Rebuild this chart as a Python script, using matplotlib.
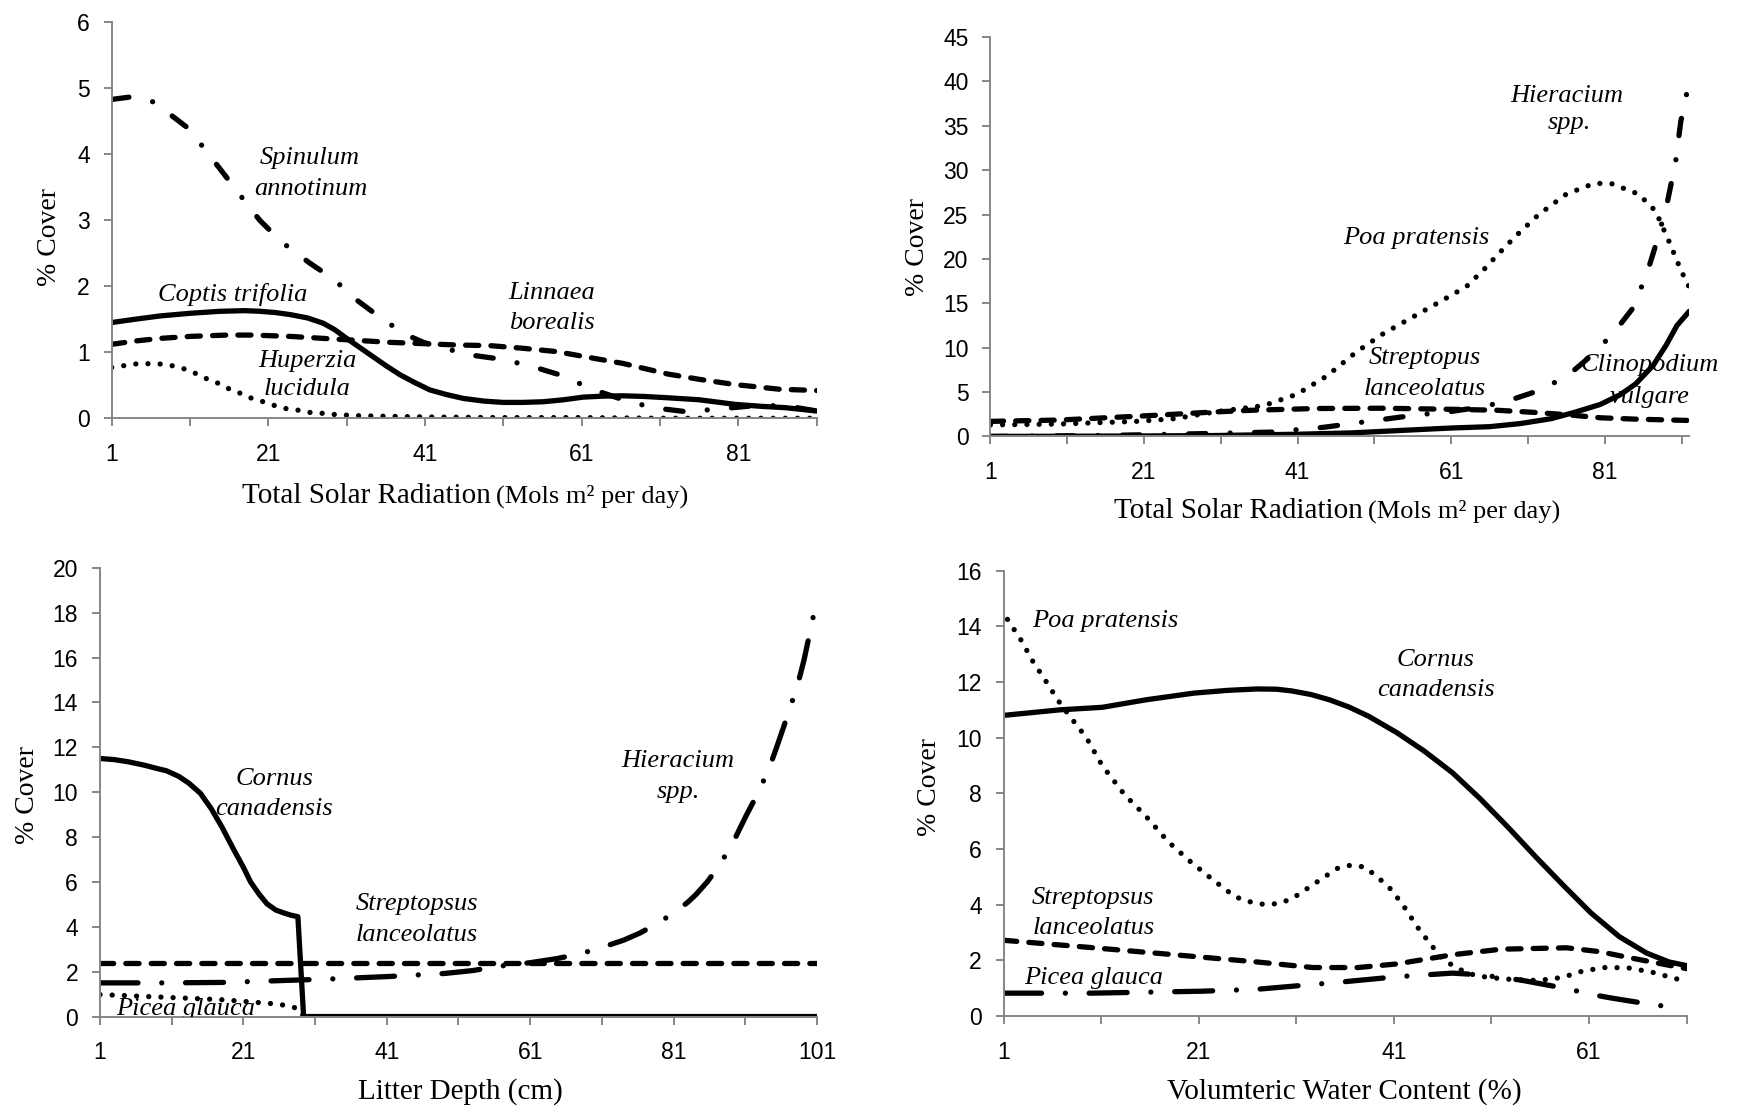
import matplotlib
matplotlib.use("Agg")
import matplotlib.pyplot as plt

# ---- top left: solar radiation, x 1..91
rad_ticks = [1, 11, 21, 31, 41, 51, 61, 71, 81, 91]
rad_ticklabels = ['1', '', '21', '', '41', '', '61', '', '81', '']

spin_x = [1, 3.6, 6.4, 10.7, 12.4, 15.6, 17.4, 19.9, 22.7, 26.3, 29.3, 32.3, 35.7, 38.7, 40.8, 42.9,
          46.7, 51, 54.8, 58.7, 62.1, 66.3, 70.1, 74.3, 78.5, 83, 87, 91]
spin_y = [4.83, 4.87, 4.79, 4.40, 4.15, 3.66, 3.38, 3.0, 2.67, 2.35, 2.11, 1.79, 1.49, 1.26, 1.15, 1.08,
          0.96, 0.89, 0.78, 0.64, 0.45, 0.28, 0.16, 0.10, 0.14, 0.19, 0.19, 0.11]
coptis_x = [1, 4, 7.2, 11, 14.8, 18, 20, 22, 23.8, 26, 28, 29.5, 31, 32.7, 34.4, 36.1, 37.8, 39.7, 41.6,
            43.7, 45.9, 48.5, 51, 53.5, 56.1, 58.7, 61.2, 63.7, 66.3, 69, 72, 76, 80.6, 84, 87, 91]
coptis_y = [1.45, 1.50, 1.55, 1.59, 1.62, 1.63, 1.62, 1.60, 1.57, 1.52, 1.44, 1.34, 1.21, 1.07, 0.93,
            0.79, 0.66, 0.54, 0.43, 0.36, 0.30, 0.26, 0.24, 0.24, 0.25, 0.28, 0.32, 0.335, 0.34, 0.33,
            0.31, 0.28, 0.21, 0.18, 0.16, 0.11]
linnaea_x = [1, 4, 7.2, 11, 15.7, 19, 23.8, 28, 32.3, 36.5, 40.8, 45, 49.3, 53.5, 57.8, 62, 66.3, 72,
             76, 80.6, 86.2, 91]
linnaea_y = [1.12, 1.17, 1.21, 1.24, 1.26, 1.26, 1.24, 1.21, 1.18, 1.15, 1.13, 1.11, 1.10, 1.06, 1.01,
             0.92, 0.83, 0.67, 0.59, 0.51, 0.44, 0.42]
huperzia_x = [1, 4.5, 7.5, 9, 10.5, 11.9, 13.1, 14.6, 15.9, 17.4, 18.7, 20.1, 21.6, 23, 24.5, 26, 27.5,
              29, 30.5, 32, 36, 41, 51, 61, 71, 81, 91]
huperzia_y = [0.77, 0.83, 0.82, 0.79, 0.74, 0.67, 0.60, 0.53, 0.45, 0.38, 0.31, 0.26, 0.20, 0.15, 0.13,
              0.09, 0.08, 0.06, 0.05, 0.04, 0.03, 0.02, 0.01, 0.01, 0.0, 0.0, 0.0]

# ---- top right: solar radiation, x 1..92
hier_x = [1, 15, 25, 33, 38, 40.5, 44.4, 48.3, 52.2, 56.5, 60.9, 65.2, 68.7, 72.4, 76.1, 79.1, 82.1,
          84.7, 86.5, 87.9, 89.1, 90.2, 90.9, 92]
hier_y = [0.0, 0.1, 0.25, 0.4, 0.5, 0.73, 1.03, 1.48, 1.93, 2.42, 2.8, 3.36, 4.1, 5.16, 6.8, 9.0, 11.6,
          14.5, 18.4, 22.3, 26.2, 30.8, 35.5, 40.0]
poa_x = [1, 10, 20, 25, 30.5, 36.6, 40.9, 44.8, 48.7, 52.2, 56.1, 60, 63, 65.2, 67.3, 69.5, 72.4, 76,
         79.6, 81.8, 85.4, 87.6, 89.4, 90.9, 92]
poa_y = [1.3, 1.4, 1.7, 2.0, 2.8, 3.47, 4.75, 6.8, 9.55, 11.6, 13.5, 15.4, 16.9, 18.75, 20.7, 22.65, 25.0,
         27.3, 28.5, 28.5, 27.3, 25.4, 21.9, 18.75, 16.8]
strep_x = [1, 10, 21.8, 30, 35, 43.5, 52, 61, 67, 72, 76, 80.5, 85, 92]
strep_y = [1.7, 1.85, 2.35, 2.75, 2.95, 3.15, 3.18, 3.06, 2.95, 2.7, 2.45, 2.1, 1.95, 1.8]
clin_x = [1, 20, 30, 41, 48, 55, 61, 66, 70, 74, 77, 80.4, 83, 85, 87.3, 89, 90.4, 92]
clin_y = [0.0, 0.05, 0.1, 0.25, 0.4, 0.7, 0.95, 1.1, 1.45, 2.0, 2.7, 3.6, 4.7, 5.9, 8.0, 10.3, 12.5, 14.1]

# ---- bottom left: litter depth, x 1..101
lit_ticks = [1, 11, 21, 31, 41, 51, 61, 71, 81, 91, 101]
lit_ticklabels = ['1', '', '21', '', '41', '', '61', '', '81', '', '101']

cornus_bl_x = [1, 3, 5, 7.2, 9, 10.3, 12, 13.4, 15, 16.5, 18, 19.6, 21, 22, 23.2, 24.3, 25.5, 26.6,
               27.6, 28.6, 29.4, 101]
cornus_bl_y = [11.5, 11.45, 11.35, 11.2, 11.05, 10.95, 10.7, 10.4, 9.95, 9.27, 8.45, 7.47, 6.65, 6.0,
               5.45, 5.02, 4.75, 4.62, 4.52, 4.45, 0.0, 0.0]
strep_bl_x = [1, 101]
strep_bl_y = [2.4, 2.4]
hier_bl_x = [1, 10, 18, 26, 33.6, 41, 49.1, 53, 56.9, 61, 64.7, 68, 70.9, 74, 76.3, 79, 81.4, 83, 84.1,
             85.7, 87.2, 89.1, 91.1, 93, 94.6, 95.7, 97.3, 98.4, 99.2, 100.4, 101]
hier_bl_y = [1.5, 1.5, 1.52, 1.6, 1.68, 1.78, 1.92, 2.05, 2.25, 2.4, 2.58, 2.8, 3.07, 3.4, 3.72, 4.2, 4.7,
             5.1, 5.43, 6.0, 6.66, 7.63, 8.94, 10.1, 11.3, 12.3, 13.8, 14.9, 15.9, 17.7, 18.6]
picea_bl_x = [1, 10, 18, 26, 28.8, 29.4, 101]
picea_bl_y = [0.98, 0.86, 0.75, 0.55, 0.35, 0.0, 0.0]

# ---- bottom right: volumetric water content, x 1..71
vwc_ticks = [1, 11, 21, 31, 41, 51, 61, 71]
vwc_ticklabels = ['1', '', '21', '', '41', '', '61', '']

cornus_br_x = [1, 6.8, 11.1, 15.6, 20.5, 24, 27, 29, 30.5, 32.5, 34.4, 36.4, 38.4, 41.3, 44.1, 47, 49.8,
               52.7, 55.5, 58.4, 61.2, 64.1, 66.9, 69.2, 71]
cornus_br_y = [10.8, 11.0, 11.09, 11.36, 11.6, 11.7, 11.75, 11.74, 11.68, 11.55, 11.36, 11.1, 10.77,
               10.18, 9.52, 8.74, 7.82, 6.78, 5.73, 4.68, 3.70, 2.85, 2.26, 1.94, 1.81]
poa_br_x = [1.4, 2.8, 4.0, 5.3, 6.6, 8.05, 9.5, 11.1, 13.4, 15.6, 17.9, 20.2, 22.5, 24.7, 26, 27.5, 29,
            30.5, 32, 33.9, 35.2, 36.6, 38, 39.3, 40.7, 42, 43.4, 44.7, 46, 47.3, 48.7, 50, 51.5, 53.5,
            55.5, 57, 58.4, 60.4, 62.8, 65.2, 67.6, 70, 70.6]
poa_br_y = [14.25, 13.5, 12.74, 12.05, 11.33, 10.65, 9.99, 9.0, 7.95, 7.17, 6.25, 5.53, 4.88, 4.29, 4.12,
            4.02, 4.03, 4.2, 4.55, 5.0, 5.3, 5.42, 5.35, 5.0, 4.55, 3.95, 3.2, 2.6, 2.05, 1.75, 1.52, 1.42,
            1.36, 1.3, 1.28, 1.32, 1.4, 1.62, 1.75, 1.72, 1.56, 1.33, 1.28]
strep_br_x = [1, 9.9, 18.5, 27, 32.7, 37.3, 41.3, 47, 52, 58.7, 62.1, 65.5, 71]
strep_br_y = [2.72, 2.46, 2.2, 1.94, 1.74, 1.74, 1.87, 2.2, 2.4, 2.45, 2.31, 2.07, 1.7]
picea_br_x = [1, 9.9, 21.3, 27, 35.6, 41.3, 47, 49.8, 54, 58.9, 61, 63.2, 65.5, 67.7, 70]
picea_br_y = [0.82, 0.82, 0.89, 0.96, 1.22, 1.41, 1.54, 1.48, 1.29, 0.97, 0.79, 0.65, 0.52, 0.4, 0.3]

# ---- styles
GRAY = '#868686'
LW = 3.8
SERIF = 'Liberation Serif'
SANS = 'Liberation Sans'
STYLES = {
    'solid': dict(linestyle='-', solid_capstyle='round', solid_joinstyle='round'),
    'dash': dict(linestyle=(0, (2.5, 2.3)), dash_capstyle='round'),
    'dot': dict(linestyle=(0, (0.01, 2.3)), dash_capstyle='round'),
    'dashdot': dict(linestyle=(0, (3.3, 4.6, 0.01, 4.6)), dash_capstyle='round'),
    'longdashdot': dict(linestyle=(0, (7.2, 4.5, 0.01, 4.5)), dash_capstyle='round'),
}

plt.rcParams['font.family'] = [SANS, 'DejaVu Sans']
plt.rcParams['xtick.labelsize'] = 16.5
plt.rcParams['ytick.labelsize'] = 16.5

fig = plt.figure(figsize=(17.39, 11.10), dpi=100)


def setup(ax, xmax, ymax, ystep, xticks, xticklabels):
    ax.set_xlim(1, xmax)
    ax.set_ylim(0, ymax)
    for s in ('top', 'right'):
        ax.spines[s].set_visible(False)
    for s in ('left', 'bottom'):
        ax.spines[s].set_color(GRAY)
        ax.spines[s].set_linewidth(1.4)
    ax.set_xticks(xticks)
    ax.set_xticklabels(xticklabels, fontsize=16.5)
    ax.set_yticks(range(0, ymax + 1, ystep))
    ax.set_yticklabels([str(v) for v in range(0, ymax + 1, ystep)], fontsize=16.5)
    ax.tick_params(axis='both', direction='out', length=5.8, width=1.4, color=GRAY,
                   labelcolor='black')
    ax.tick_params(axis='x', pad=12)
    ax.tick_params(axis='y', pad=10)
    ax.set_facecolor('none')


def note(ax, x, y, s, clip=False):
    ax.text(x, y, s, ha='center', va='center', fontsize=19, fontstyle='italic',
            family=SERIF, clip_on=clip)


def line(ax, x, y, kind):
    ax.plot(x, y, color='black', linewidth=LW, **STYLES[kind])


# top left
ax1 = fig.add_axes([0.0642, 0.6232, 0.4054, 0.3568])
setup(ax1, 91, 6, 1, rad_ticks, rad_ticklabels)
line(ax1, huperzia_x, huperzia_y, 'dot')
line(ax1, linnaea_x, linnaea_y, 'dash')
line(ax1, spin_x, spin_y, 'dashdot')
line(ax1, coptis_x, coptis_y, 'solid')
note(ax1, 26.3, 3.94, 'Spinulum')
note(ax1, 26.4, 3.48, 'annotinum')
note(ax1, 16.5, 1.88, 'Coptis trifolia')
note(ax1, 57.2, 1.89, 'Linnaea')
note(ax1, 57.2, 1.44, 'borealis')
note(ax1, 26.0, 0.86, 'Huperzia')
note(ax1, 26.0, 0.45, 'lucidula')

# top right
ax2 = fig.add_axes([0.5695, 0.6068, 0.4019, 0.3599])
setup(ax2, 92, 45, 5, rad_ticks, rad_ticklabels)
line(ax2, poa_x, poa_y, 'dot')
line(ax2, strep_x, strep_y, 'dash')
line(ax2, hier_x, hier_y, 'dashdot')
line(ax2, clin_x, clin_y, 'solid')
note(ax2, 76.0, 38.4, 'Hieracium')
note(ax2, 76.4, 35.3, 'spp.')
note(ax2, 56.4, 22.3, 'Poa pratensis')
note(ax2, 57.6, 8.8, 'Streptopus')
note(ax2, 57.6, 5.4, 'lanceolatus')
note(ax2, 86.9, 8.05, 'Clinopodium')
note(ax2, 86.8, 4.5, 'vulgare')

# bottom left
ax3 = fig.add_axes([0.0575, 0.0842, 0.4123, 0.4043])
setup(ax3, 101, 20, 2, lit_ticks, lit_ticklabels)
line(ax3, picea_bl_x, picea_bl_y, 'dot')
line(ax3, strep_bl_x, strep_bl_y, 'dash')
line(ax3, hier_bl_x, hier_bl_y, 'longdashdot')
line(ax3, cornus_bl_x, cornus_bl_y, 'solid')
note(ax3, 25.3, 10.6, 'Cornus')
note(ax3, 25.3, 9.25, 'canadensis')
note(ax3, 45.2, 5.0, 'Streptopsus')
note(ax3, 45.2, 3.62, 'lanceolatus')
note(ax3, 81.6, 11.4, 'Hieracium')
note(ax3, 81.6, 10.0, 'spp.')
note(ax3, 12.9, 0.33, 'Picea glauca', clip=True)

# bottom right
ax4 = fig.add_axes([0.5771, 0.0847, 0.3928, 0.4012])
setup(ax4, 71, 16, 2, vwc_ticks, vwc_ticklabels)
line(ax4, poa_br_x, poa_br_y, 'dot')
line(ax4, strep_br_x, strep_br_y, 'dash')
line(ax4, picea_br_x, picea_br_y, 'longdashdot')
line(ax4, cornus_br_x, cornus_br_y, 'solid')
note(ax4, 11.4, 14.18, 'Poa pratensis')
note(ax4, 45.3, 12.78, 'Cornus')
note(ax4, 45.3, 11.7, 'canadensis')
note(ax4, 10.2, 4.24, 'Streptopsus')
note(ax4, 10.2, 3.15, 'lanceolatus')
note(ax4, 10.2, 1.35, 'Picea glauca')

# axis titles (figure pixel positions)
W, H = 1739.0, 1110.0


def ftext(x, y, s, **kw):
    fig.text(x / W, 1 - y / H, s, family=SERIF, **kw)


ftext(491, 503, 'Total Solar Radiation', fontsize=21, ha='right', va='baseline')
ftext(496, 503, '(Mols m\u00b2 per day)', fontsize=19, ha='left', va='baseline')
ftext(1363, 518, 'Total Solar Radiation', fontsize=21, ha='right', va='baseline')
ftext(1368, 518, '(Mols m\u00b2 per day)', fontsize=19, ha='left', va='baseline')
ftext(460, 1099, 'Litter Depth (cm)', fontsize=21, ha='center', va='baseline')
ftext(1344, 1099, 'Volumteric Water Content (%)', fontsize=21, ha='center', va='baseline')

for (x, y) in [(50, 237), (917, 247), (27, 795), (929, 787)]:
    ftext(x, y, '% Cover', fontsize=20, ha='center', va='center', rotation=90)

fig.savefig('out.png', dpi=100, facecolor='white')
